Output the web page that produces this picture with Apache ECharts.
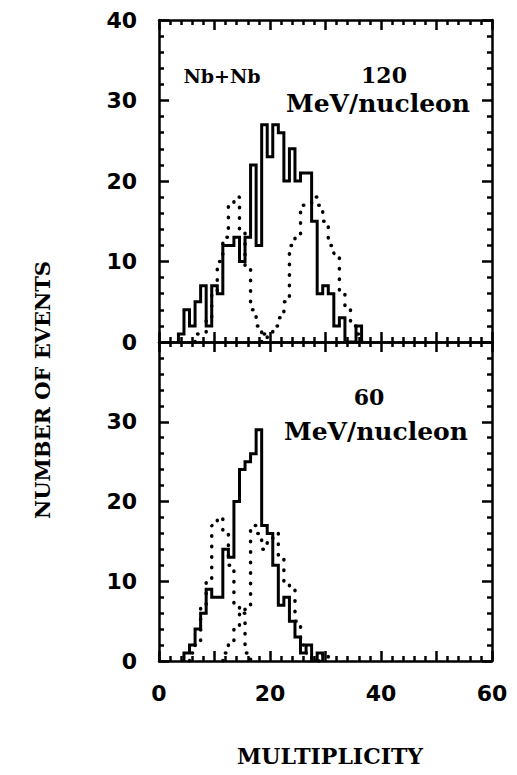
<!DOCTYPE html>
<html>
<head>
<meta charset="utf-8">
<script src="https://cdn.jsdelivr.net/npm/echarts@6/dist/echarts.min.js"></script>
</head>
<body style="margin:0;background:#fff">
<div id="chart" style="width:517px;height:775px"></div>
<script>
// ---- Data (bins of multiplicity, width 1, centred on integers) ----
const xTicks = [0, 20, 40, 60];

// 120 MeV/nucleon panel
const top120SolidStart = 4;
const top120Solid = [1, 4, 2, 5, 7, 2, 7, 6, 12, 12, 13, 10, 13, 22, 12, 27, 23, 27, 26, 20, 24, 20, 21, 21, 15, 6, 7, 6, 2, 3, 0, 0, 2];
const top120DotLowStart = 7;
const top120DotLow = [1, 1, 3, 6, 10, 13, 17, 18, 14, 9, 4, 2, 1];
const top120DotHighStart = 19;
const top120DotHigh = [1, 1, 2, 3, 5, 12, 13, 17, 17, 18, 17, 15, 12, 11, 6, 4, 2, 1];

// 60 MeV/nucleon panel
const bot60SolidStart = 5;
const bot60Solid = [1, 2, 4, 6, 9, 8, 8, 14, 13, 20, 24, 25, 26, 29, 17, 16, 12, 7, 8, 5, 3, 1, 2, 0, 1];
const bot60DotLowStart = 6;
const bot60DotLow = [1, 2, 7, 10, 17, 18, 16, 12, 7, 6, 1];
const bot60DotHighStart = 12;
const bot60DotHigh = [1, 2, 4, 6, 7, 17, 16, 14, 15, 16, 13, 10, 9, 5, 2, 1, 0, 0, 1];

// ---- Helpers ----
function histSteps(start, vals) {
  const pts = [[start - 0.5, 0]];
  vals.forEach((v, i) => {
    const c = start + i;
    pts.push([c - 0.5, v], [c + 0.5, v]);
  });
  pts.push([start + vals.length - 0.5, 0]);
  return pts;
}

const labelFont = { color: '#000', fontFamily: '"DejaVu Sans", sans-serif', fontWeight: 'bold', fontSize: 22 };
const serifBold = '"DejaVu Serif", "Liberation Serif", serif';
const tickStyle = { color: '#000', width: 2.5, type: 'solid' };

function xAxisDef(grid, position, showLabels) {
  return {
    type: 'value', gridIndex: grid, position: position,
    min: 0, max: 60, interval: 10,
    axisLine: { show: true, onZero: false, lineStyle: { color: '#000', width: 2.5 } },
    axisTick: { show: true, inside: true, length: 10, lineStyle: tickStyle },
    minorTick: { show: true, splitNumber: 5, length: 5, lineStyle: tickStyle },
    splitLine: { show: false },
    axisLabel: Object.assign({
      show: showLabels, margin: 21,
      formatter: v => (xTicks.indexOf(v) >= 0 ? String(v) : '')
    }, labelFont)
  };
}
function yAxisDef(grid, position, showLabels, showMax) {
  return {
    type: 'value', gridIndex: grid, position: position,
    min: 0, max: 40, interval: 10,
    axisLine: { show: true, onZero: false, lineStyle: { color: '#000', width: 2.5 } },
    axisTick: { show: true, inside: true, length: 10, lineStyle: tickStyle },
    minorTick: { show: true, splitNumber: 5, length: 5, lineStyle: tickStyle },
    splitLine: { show: false },
    axisLabel: Object.assign({ show: showLabels, margin: 22, showMaxLabel: showMax }, labelFont)
  };
}

function solidSeries(xi, yi, start, vals) {
  return {
    type: 'line', xAxisIndex: xi, yAxisIndex: yi, data: histSteps(start, vals),
    showSymbol: false, symbol: 'none',
    lineStyle: { color: '#000', width: 3, join: 'miter' }
  };
}
function dotSeries(xi, yi, start, vals) {
  return {
    type: 'line', xAxisIndex: xi, yAxisIndex: yi, data: histSteps(start, vals),
    showSymbol: false, symbol: 'none',
    lineStyle: { color: '#000', width: 3.5, type: [0.5, 10], cap: 'round' }
  };
}

const chart = echarts.init(document.getElementById('chart'), null, { renderer: 'svg' });
chart.setOption({
  animation: false,
  grid: [
    { left: 159, top: 20, width: 333, height: 322 },
    { left: 159, top: 342, width: 333, height: 319 }
  ],
  xAxis: [
    xAxisDef(0, 'bottom', false),
    xAxisDef(0, 'top', false),
    xAxisDef(1, 'bottom', true),
    xAxisDef(1, 'top', false)
  ],
  yAxis: [
    yAxisDef(0, 'left', true, true),
    yAxisDef(0, 'right', false, true),
    yAxisDef(1, 'left', true, false),
    yAxisDef(1, 'right', false, true)
  ],
  series: [
    dotSeries(0, 0, top120DotLowStart, top120DotLow),
    dotSeries(0, 0, top120DotHighStart, top120DotHigh),
    solidSeries(0, 0, top120SolidStart, top120Solid),
    dotSeries(2, 2, bot60DotLowStart, bot60DotLow),
    dotSeries(2, 2, bot60DotHighStart, bot60DotHigh),
    solidSeries(2, 2, bot60SolidStart, bot60Solid)
  ],
  graphic: [
    { type: 'text', x: 222, y: 76, style: { text: 'Nb+Nb', align: 'center', verticalAlign: 'middle', fill: '#000', font: 'bold 19px ' + serifBold } },
    { type: 'text', x: 384, y: 75, style: { text: '120', align: 'center', verticalAlign: 'middle', fill: '#000', font: 'bold 22px ' + serifBold } },
    { type: 'text', x: 378, y: 103, style: { text: 'MeV/nucleon', align: 'center', verticalAlign: 'middle', fill: '#000', font: 'bold 25px ' + serifBold } },
    { type: 'text', x: 369, y: 397, style: { text: '60', align: 'center', verticalAlign: 'middle', fill: '#000', font: 'bold 22px ' + serifBold } },
    { type: 'text', x: 376, y: 431, style: { text: 'MeV/nucleon', align: 'center', verticalAlign: 'middle', fill: '#000', font: 'bold 25px ' + serifBold } },
    { type: 'text', x: 42, y: 390, rotation: Math.PI / 2, style: { text: 'NUMBER OF EVENTS', align: 'center', verticalAlign: 'middle', fill: '#000', font: 'bold 21px ' + serifBold } },
    { type: 'text', x: 330, y: 756, style: { text: 'MULTIPLICITY', align: 'center', verticalAlign: 'middle', fill: '#000', font: 'bold 22px ' + serifBold } }
  ]
});
</script>
</body>
</html>
